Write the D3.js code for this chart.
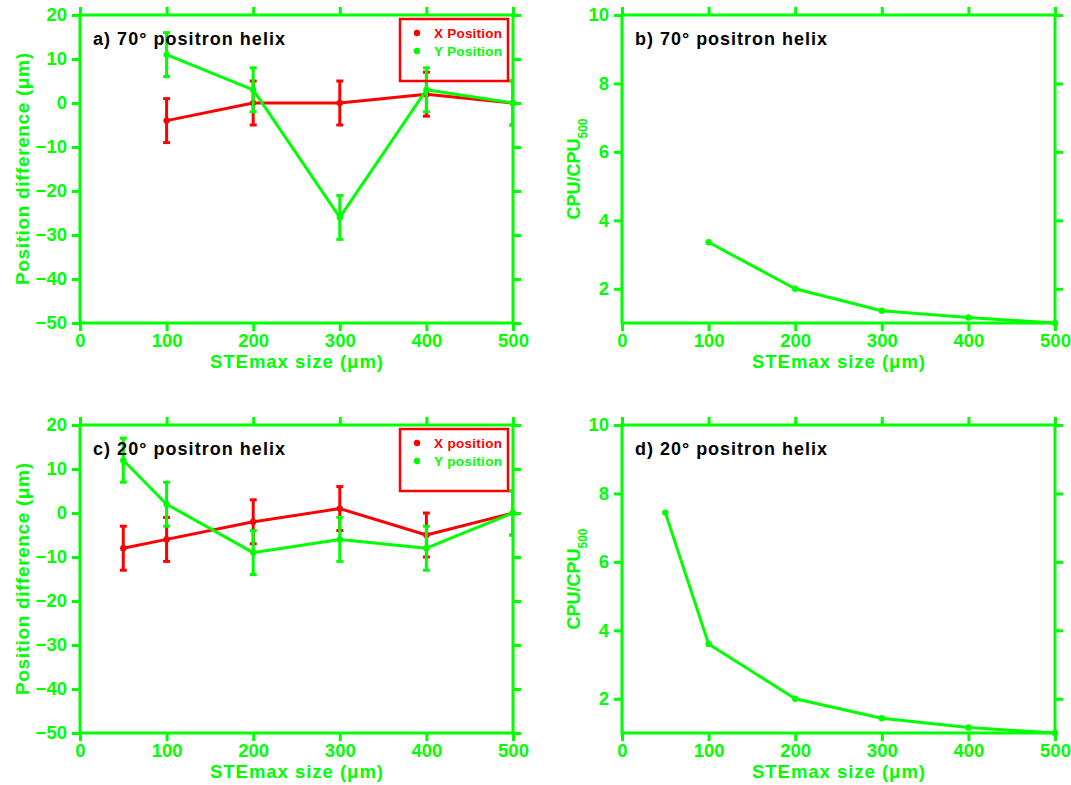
<!DOCTYPE html>
<html><head><meta charset="utf-8">
<script src="https://cdn.jsdelivr.net/npm/d3@7"></script>
<style>
html,body{margin:0;padding:0;background:#fff;}
svg{display:block;font-family:"Liberation Sans",Arial,sans-serif;font-weight:bold;}
</style></head>
<body>
<svg id="chart" width="1071" height="785"></svg>
<script>
// ---------- data ----------
const stepsA = [100, 200, 300, 400, 500];
const xPosA = [-4, 0, 0, 2, 0];
const yPosA = [11, 3, -26, 3, 0];
const xErrA = [5, 5, 5, 5, 5];
const yErrA = [5, 5, 5, 5, 5];

const stepsB = [100, 200, 300, 400, 500];
const cpuB = [3.36, 2.0, 1.36, 1.16, 1.0];

const stepsC = [50, 100, 200, 300, 400, 500];
const xPosC = [-8, -6, -2, 1, -5, 0];
const yPosC = [12, 2, -9, -6, -8, 0];
const xErrC = [5, 5, 5, 5, 5, 5];
const yErrC = [5, 5, 5, 5, 5, 5];

const stepsD = [50, 100, 200, 300, 400, 500];
const cpuD = [7.44, 3.6, 2.0, 1.43, 1.16, 1.0];

const xTicks = [0, 100, 200, 300, 400, 500];
const posTicks = [-50, -40, -30, -20, -10, 0, 10, 20];
const cpuTicks = [2, 4, 6, 8, 10];

const titles = ["a) 70\u00B0 positron  helix", "b) 70\u00B0 positron  helix",
                "c) 20\u00B0 positron  helix", "d) 20\u00B0 positron  helix"];
const legendA = ["X Position", "Y Position"];
const legendC = ["X position", "Y position"];
const xTitle = "STEmax size (\u03BCm)";
const posTitle = "Position difference (\u03BCm)";

// ---------- styles ----------
const GREEN = "#00ff00", RED = "#ff0000";
const svg = d3.select("#chart");
let clipId = 0;

function frame(g, x, y, yTicks, fmt) {
  const [x0, x1] = x.range();
  const [y0, y1] = y.range(); // y0 bottom, y1 top
  const ax = (sel) => {
    sel.selectAll("path").remove();
    sel.selectAll("line").attr("stroke", GREEN).attr("stroke-width", 3);
    sel.selectAll("text").attr("fill", GREEN).style("font-size", "18.5px").style("font-weight", "bold")
      .style("font-family", "'Liberation Sans',Arial,sans-serif");
  };
  g.append("g").attr("transform", `translate(0,${y0})`)
    .call(d3.axisBottom(x).tickValues(xTicks).tickSize(8).tickPadding(3).tickFormat(d3.format("d"))).call(ax);
  g.append("g").attr("transform", `translate(0,${y1})`)
    .call(d3.axisTop(x).tickValues(xTicks).tickSize(8).tickFormat("")).call(ax);
  g.append("g").attr("transform", `translate(${x0},0)`)
    .call(d3.axisLeft(y).tickValues(yTicks).tickSize(8).tickPadding(5).tickFormat(fmt)).call(ax);
  g.append("g").attr("transform", `translate(${x1},0)`)
    .call(d3.axisRight(y).tickValues(yTicks).tickSize(8).tickFormat("")).call(ax);
  g.append("rect").attr("x", x0).attr("y", y1).attr("width", x1 - x0).attr("height", y0 - y1)
    .attr("fill", "none").attr("stroke", GREEN).attr("stroke-width", 3);
}

function makeClip(x, y) {
  const id = "clip" + (clipId++);
  svg.append("clipPath").attr("id", id).append("rect")
    .attr("x", x.range()[0]).attr("y", y.range()[1])
    .attr("width", x.range()[1] - x.range()[0]).attr("height", y.range()[0] - y.range()[1]);
  return `url(#${id})`;
}

function xTitleText(g, x, y) {
  const [x0, x1] = x.range();
  g.append("text").attr("x", (x0 + x1) / 2).attr("y", y.range()[0] + 45)
    .attr("text-anchor", "middle").attr("fill", GREEN).style("font-size", "18.5px")
    .attr("textLength", 173).attr("lengthAdjust", "spacing").text(xTitle);
}

function panelTitle(g, x, y, t) {
  g.append("text").attr("x", x.range()[0] + 13).attr("y", y.range()[1] + 30)
    .attr("fill", "#000").style("font-size", "18px")
    .attr("textLength", 192).attr("lengthAdjust", "spacing").text(t);
}

function series(g, x, y, xs, vals, errs, color, clip) {
  const s = g.append("g");
  const line = d3.line().x((d, i) => x(xs[i])).y(d => y(d));
  s.append("path").datum(vals).attr("d", line).attr("fill", "none")
    .attr("stroke", color).attr("stroke-width", 3).attr("stroke-linejoin", "round");
  if (errs) {
    const eb = s.append("g").attr("stroke", color).attr("stroke-width", 3).attr("clip-path", clip);
    vals.forEach((v, i) => {
      const cx = x(xs[i]);
      eb.append("line").attr("x1", cx).attr("x2", cx).attr("y1", y(v - errs[i])).attr("y2", y(v + errs[i]));
      eb.append("line").attr("x1", cx - 3.5).attr("x2", cx + 3.5).attr("y1", y(v - errs[i])).attr("y2", y(v - errs[i]));
      eb.append("line").attr("x1", cx - 3.5).attr("x2", cx + 3.5).attr("y1", y(v + errs[i])).attr("y2", y(v + errs[i]));
    });
  }
  s.selectAll(null).data(vals).enter().append("circle")
    .attr("cx", (d, i) => x(xs[i])).attr("cy", d => y(d)).attr("r", 3.2).attr("fill", color);
}

function legend(g, x, y, labels) {
  const top = y.range()[1];
  g.append("rect").attr("x", 400).attr("y", top + 4).attr("width", 108).attr("height", 62)
    .attr("fill", "none").attr("stroke", RED).attr("stroke-width", 2.5);
  [RED, GREEN].forEach((c, i) => {
    const yy = top + 18 + i * 18;
    g.append("circle").attr("cx", 417).attr("cy", yy).attr("r", 3.2).attr("fill", c);
    g.append("text").attr("x", 434).attr("y", yy).attr("dy", "0.35em").attr("fill", c)
      .style("font-size", "13.5px").attr("textLength", 68).attr("lengthAdjust", "spacing").text(labels[i]);
  });
}

function posYTitle(g, y) {
  const cy = (y.range()[0] + y.range()[1]) / 2;
  g.append("text").attr("transform", `translate(29,${cy}) rotate(-90)`)
    .attr("text-anchor", "middle").attr("fill", GREEN).style("font-size", "19px")
    .attr("textLength", 232).attr("lengthAdjust", "spacing").text(posTitle);
}

function cpuYTitle(g, y) {
  const cy = (y.range()[0] + y.range()[1]) / 2;
  const t = g.append("text").attr("transform", `translate(580,${cy}) rotate(-90)`)
    .attr("text-anchor", "middle").attr("fill", GREEN).style("font-size", "18px");
  t.append("tspan").text("CPU/CPU");
  t.append("tspan").attr("dy", 7).style("font-size", "12px").text("500");
}

// ---------- panels ----------
function posPanel(top, xs, xv, yv, xe, ye, title, leg) {
  const g = svg.append("g");
  const x = d3.scaleLinear().domain([0, 500]).range([80, 513]);
  const y = d3.scaleLinear().domain([-50, 20]).range([top + 308, top]);
  const clip = makeClip(x, y);
  series(g, x, y, xs, xv, xe, RED, clip);
  series(g, x, y, xs, yv, ye, GREEN, clip);
  frame(g, x, y, posTicks, d3.format("d"));
  legend(g, x, y, leg);
  panelTitle(g, x, y, title);
  xTitleText(g, x, y);
  posYTitle(g, y);
}

function cpuPanel(top, xs, vals, title) {
  const g = svg.append("g");
  const x = d3.scaleLinear().domain([0, 500]).range([622, 1055]);
  const y = d3.scaleLinear().domain([1, 10]).range([top + 308, top]);
  frame(g, x, y, cpuTicks, d3.format("d"));
  series(g, x, y, xs, vals, null, GREEN, null);
  panelTitle(g, x, y, title);
  xTitleText(g, x, y);
  cpuYTitle(g, y);
}

posPanel(15, stepsA, xPosA, yPosA, xErrA, yErrA, titles[0], legendA);
cpuPanel(15, stepsB, cpuB, titles[1]);
posPanel(425, stepsC, xPosC, yPosC, xErrC, yErrC, titles[2], legendC);
cpuPanel(425, stepsD, cpuD, titles[3]);
</script>
</body></html>
